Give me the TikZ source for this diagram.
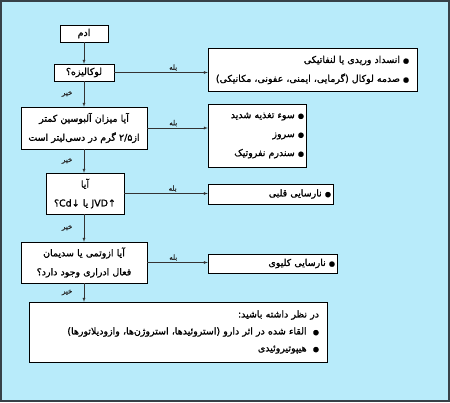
\documentclass[tikz,border=0pt]{standalone}
\usepackage{fontspec}
\newfontfamily\fafont[Script=Arabic,FakeBold=1.2]{DejaVu Sans}
\TeXXeTstate=1
\newcommand{\rl}[1]{\beginR #1\endR}
\newcommand{\blt}{{\fontsize{7}{8}\selectfont●}}
\definecolor{bgblue}{RGB}{184,235,250}
\definecolor{framegray}{RGB}{55,65,72}
\begin{document}
\begin{tikzpicture}[x=1bp,y=-1bp,
    box/.style={draw,fill=white,inner sep=2bp,font=\fafont\fontsize{9.5}{12}\selectfont},
    lbl/.style={font=\fafont\fontsize{7}{8}\selectfont,text=black!85,inner sep=1.5bp},
    link/.style={draw=black!80,-latex}]
\useasboundingbox (0,0) rectangle (450,402);
\draw[framegray,line width=2bp,fill=bgblue] (1,1) rectangle (449,401);

% left column: questions
\node[box,minimum width=48bp,minimum height=17bp] (adem) at (84,33.5) {\rl{ادم}};
\node[box,minimum width=60bp,minimum height=17bp] (loc) at (84,72.5) {\rl{لوکالیزه؟}};
\node[box,minimum width=126bp,minimum height=42bp,text width=122bp,align=center] (alb) at (84,128)
    {\rl{آیا میزان آلبوسین کمتر}\\[7bp] \rl{از\beginL ۲/۵\endL{} گرم در دسی‌لیتر است}};
\node[box,minimum width=78bp,minimum height=41bp,text width=74bp,align=center] (jvd) at (85,193.5)
    {\rl{آیا}\\[7bp] \rl{↑\beginL JVD\endL{} یا ↓\beginL Cd\endL؟}};
\node[box,minimum width=126bp,minimum height=41bp,text width=122bp,align=center] (azot) at (84,262.5)
    {\rl{آیا ازوتمی یا سدیمان}\\[7bp] \rl{فعال ادراری وجود دارد؟}};

% right column: causes
\node[box,minimum width=209bp,minimum height=43bp,align=right] (lymph) at (312.5,70)
    {\rl{\blt{} انسداد وریدی یا لنفاتیکی}\\[7bp] \rl{\blt{} صدمه لوکال (گرمایی، ایمنی، عفونی، مکانیکی)}};
\node[box,minimum width=98bp,minimum height=63bp,text width=94bp,align=right] (malnut) at (257,135.5)
    {\rl{\blt{} سوء تغذیه شدید}\\[7bp] \rl{\blt{} سروز}\\[7bp] \rl{\blt{} سندرم نفروتیک}};
\node[box,minimum width=125bp,minimum height=20bp,text width=121bp,align=right] (heart) at (270.5,194)
    {\rl{\blt{} نارسایی قلبی}};
\node[box,minimum width=129bp,minimum height=19bp,text width=125bp,align=right] (kidney) at (272.5,263.5)
    {\rl{\blt{} نارسایی کلیوی}};
\node[box,minimum width=298bp,minimum height=60bp,text width=282bp,align=right] (other) at (178,332)
    {\rl{در نظر داشته باشید:}\\[5bp] \rl{\blt\ \ القاء شده در اثر دارو (استروئیدها، استروژن‌ها، وازودیلاتورها)}\\[5bp] \rl{\blt\ \ هیپوتیروئیدی}};

% yes arrows
\draw[link] (loc.east) -- node[lbl,above,pos=0.63] {\rl{بله}} (loc.east -| lymph.west);
\draw[link] (alb.east) -- node[lbl,above,pos=0.43] {\rl{بله}} (alb.east -| malnut.west);
\draw[link] (jvd.east) -- node[lbl,above,pos=0.58] {\rl{بله}} (jvd.east -| heart.west);
\draw[link] (azot.east) -- node[lbl,above,pos=0.43] {\rl{بله}} (azot.east -| kidney.west);

% no arrows
\draw[link] (adem) -- (loc);
\draw[link] (loc.south) -- node[lbl,left=10bp] {\rl{خیر}} (loc.south |- alb.north);
\draw[link] (alb.south) -- node[lbl,left=10bp] {\rl{خیر}} (alb.south |- jvd.north);
\draw[link] (alb.south |- jvd.south) -- node[lbl,left=10bp] {\rl{خیر}} (alb.south |- azot.north);
\draw[link] (azot.south) -- node[lbl,left=10bp] {\rl{خیر}} (azot.south |- other.north);
\end{tikzpicture}
\end{document}
